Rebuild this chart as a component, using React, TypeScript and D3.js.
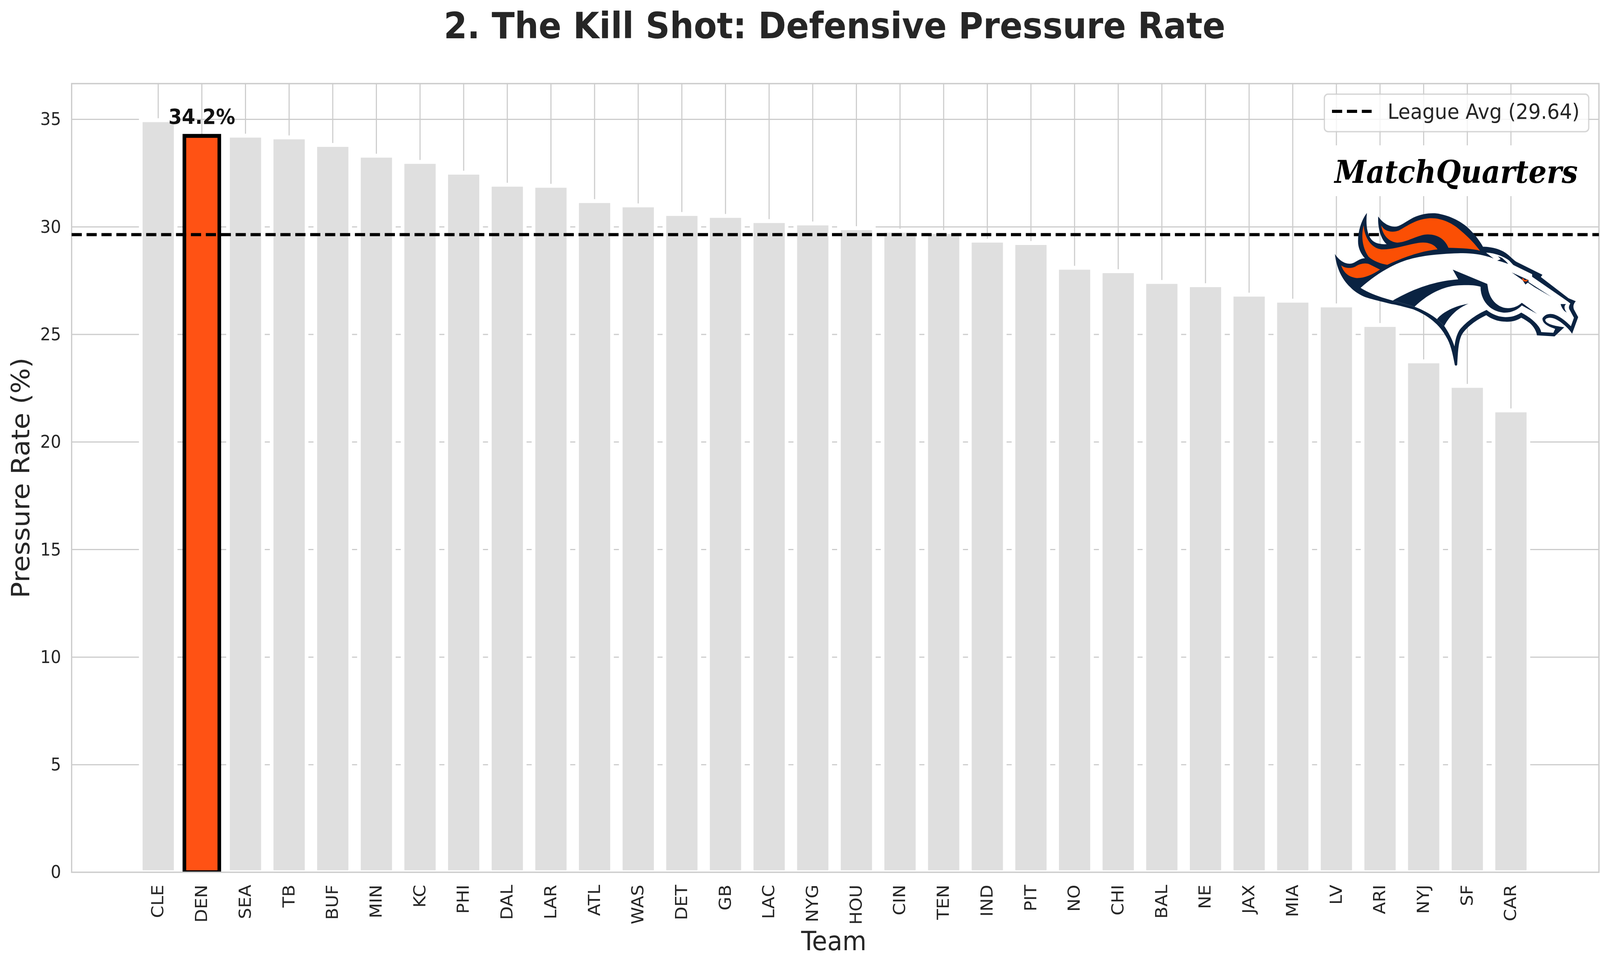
import React, { useEffect, useRef } from "react";
import * as d3 from "d3";

// Values, sorted like the source chart
const teams = ["CLE", "DEN", "SEA", "TB", "BUF", "MIN", "KC", "PHI", "DAL", "LAR", "ATL", "WAS", "DET", "GB", "LAC", "NYG", "HOU", "CIN", "TEN", "IND", "PIT", "NO", "CHI", "BAL", "NE", "JAX", "MIA", "LV", "ARI", "NYJ", "SF", "CAR"];
const pressureRate = [34.96, 34.23, 34.24, 34.16, 33.81, 33.31, 33.02, 32.52, 31.96, 31.91, 31.2, 31.0, 30.6, 30.51, 30.27, 30.16, 29.94, 29.82, 29.76, 29.36, 29.25, 28.1, 27.94, 27.44, 27.29, 26.85, 26.57, 26.35, 25.44, 23.75, 22.61, 21.47];
const yTicks = [0, 5, 10, 15, 20, 25, 30, 35];
const highlightTeam = "DEN";
const leagueAvg = 29.64;

const WIDTH = 4400;
const HEIGHT = 2475;
const FONT = "'DejaVu Sans', sans-serif";
const NAVY = "#0a2342";
const ORANGE = "#fb4f04";

// Logo outlines, traced at 3x around the logo's top left corner
const logoOutline = "M33 345 C60 385 105 420 155 420 C200 420 225 380 280 378 C240 335 222 290 224 240 C226 160 255 80 297 30 C288 110 295 190 335 235 C365 268 420 272 460 270 C415 235 385 150 390 57 C425 105 480 140 540 135 C590 125 640 80 700 58 C760 35 840 25 900 38 C990 55 1070 95 1120 135 C1180 185 1225 240 1255 290 C1300 288 1370 300 1420 325 C1470 350 1495 385 1530 405 L1745 505 L1732 522 L1960 685 L2020 708 C1995 735 2000 755 2005 770 L2040 830 L1990 958 C1960 915 1920 885 1890 865 C1855 842 1825 832 1800 835 C1775 838 1765 848 1770 858 C1780 878 1820 895 1925 908 L1845 978 L1700 970 C1695 935 1670 900 1640 875 C1615 860 1595 845 1570 835 C1530 858 1490 868 1440 865 C1390 865 1330 850 1282 815 C1200 850 1120 905 1080 965 C1050 1020 1048 1110 1042 1195 Q1035 1210 1022 1197 C1005 1110 985 1030 950 980 C900 890 800 815 680 770 C600 750 540 735 500 730 C420 710 340 695 280 675 C230 655 190 630 160 600 C90 540 45 450 33 345 Z";
const logoWhite = "M245 605 C360 510 480 440 600 400 C720 360 880 345 1050 340 C1150 335 1260 350 1342 380 L1280 335 C1350 335 1430 365 1470 395 L1505 430 L1660 500 L1660 520 L1955 710 L1975 725 C1962 745 1960 760 1970 775 L2005 835 L1980 900 C1950 870 1900 830 1850 812 C1810 798 1765 805 1745 840 C1745 870 1770 895 1850 920 L1835 950 L1735 945 C1730 920 1715 895 1660 850 C1635 830 1600 810 1570 795 C1530 820 1490 830 1440 830 C1390 830 1330 810 1285 775 C1210 805 1120 860 1060 930 C1035 970 1025 1010 1020 1055 C1000 1000 970 945 935 898 L875 845 C820 805 760 775 690 750 L510 703 C420 680 320 650 245 605 Z";
const logoArc = "M1005 465 L1050 540 C900 550 720 590 510 703 L690 750 C790 660 930 585 1077 585 C1140 582 1200 585 1235 597 C1232 680 1290 780 1420 795 C1490 800 1545 770 1575 740 L1700 805 L1575 720 C1540 750 1495 765 1440 760 C1370 750 1305 690 1295 600 L1290 575 Z";
const logoCrescent = "M875 845 C925 790 1020 745 1135 727 C1060 755 985 810 935 898 Z";
const logoWisp = "M1378 362 L1412 375 C1430 390 1450 405 1463 422 C1430 412 1400 400 1372 397 L1400 385 Z";
const logoEye = "M1492 487 L1630 545 L1632 562 L1820 675 L1680 600 L1625 565 L1605 580 L1580 545 Z";
const logoNostril = "M1895 730 L1940 730 C1920 745 1925 770 1945 795 C1925 785 1905 765 1895 730 Z";
const logoFlames = [
  "M85 433 C110 452 160 462 205 440 C240 420 285 410 320 425 L405 465 C340 505 280 530 215 530 C150 525 105 490 85 433 Z",
  "M270 125 C250 200 255 290 310 365 C350 400 410 420 465 428 C570 385 720 325 880 310 C850 265 790 250 720 260 C620 275 520 310 430 310 C350 310 280 240 270 125 Z",
  "M415 125 C440 170 500 185 560 165 C620 135 700 80 800 72 C900 62 1000 105 1070 165 C1140 220 1190 270 1230 320 C1170 305 1080 300 970 298 C940 230 880 195 800 195 C720 195 630 255 550 258 C480 255 425 200 415 125 Z",
];

export default function App() {
  const svgRef = useRef<SVGSVGElement | null>(null);

  useEffect(() => {
    if (!svgRef.current) return;
    const svg = d3.select(svgRef.current);
    svg.selectAll("*").remove();

    const margin = { top: 214, right: 4397, bottom: 2232.5, left: 197 };

    const x = d3.scaleBand<string>()
      .domain(teams)
      .range([margin.left, margin.right])
      .paddingInner(0.2)
      .paddingOuter(1.6)
      .align(0.495);

    const y = d3.scaleLinear()
      .domain([0, 36.66])
      .range([margin.bottom, margin.top]);

    svg.append("rect").attr("width", WIDTH).attr("height", HEIGHT).attr("fill", "#fff");

    svg.append("defs").append("clipPath").attr("id", "plot-clip")
      .append("rect")
      .attr("x", margin.left)
      .attr("y", margin.top)
      .attr("width", margin.right - margin.left)
      .attr("height", margin.bottom - margin.top);

    // Grid
    svg.append("g")
      .selectAll("line")
      .data(yTicks)
      .join("line")
      .attr("x1", margin.left)
      .attr("x2", margin.right)
      .attr("y1", (d) => y(d))
      .attr("y2", (d) => y(d))
      .attr("stroke", "#cccccc")
      .attr("stroke-width", 3);

    svg.append("g")
      .selectAll("line")
      .data(teams)
      .join("line")
      .attr("x1", (d) => x(d)! + x.bandwidth() / 2)
      .attr("x2", (d) => x(d)! + x.bandwidth() / 2)
      .attr("y1", margin.top)
      .attr("y2", margin.bottom)
      .attr("stroke", "#cccccc")
      .attr("stroke-width", 3);

    // Bars
    const bars = svg.append("g").attr("clip-path", "url(#plot-clip)");
    bars.selectAll("rect")
      .data(teams)
      .join("rect")
      .attr("x", (d) => x(d)!)
      .attr("width", x.bandwidth())
      .attr("y", (_, i) => y(pressureRate[i]))
      .attr("height", (_, i) => y(0) - y(pressureRate[i]))
      .attr("fill", (d) => (d === highlightTeam ? "#ff5214" : "#dfdfdf"))
      .attr("stroke", (d) => (d === highlightTeam ? "#000" : "#fff"))
      .attr("stroke-width", 10);

    // Spines
    svg.append("rect")
      .attr("x", margin.left)
      .attr("y", margin.top)
      .attr("width", margin.right - margin.left)
      .attr("height", margin.bottom - margin.top)
      .attr("fill", "none")
      .attr("stroke", "#cccccc")
      .attr("stroke-width", 3.5);

    // Average line
    svg.append("line")
      .attr("x1", margin.left)
      .attr("x2", margin.right)
      .attr("y1", y(leagueAvg))
      .attr("y2", y(leagueAvg))
      .attr("stroke", "#000")
      .attr("stroke-width", 8)
      .attr("stroke-dasharray", "28,13");

    // Axes
    svg.append("g")
      .attr("transform", `translate(${margin.left},0)`)
      .call(d3.axisLeft(y).tickValues(yTicks).tickSize(0).tickPadding(29))
      .call((g) => {
        g.select(".domain").remove();
        g.selectAll(".tick text")
          .attr("fill", "#262626")
          .style("font-family", FONT)
          .style("font-size", "45px");
      });

    svg.append("g")
      .attr("transform", `translate(0,${margin.bottom})`)
      .call(d3.axisBottom(x).tickSize(0))
      .call((g) => {
        g.select(".domain").remove();
        g.selectAll(".tick text")
          .attr("fill", "#262626")
          .style("font-family", FONT)
          .style("font-size", "45px")
          .attr("transform", "rotate(-90)")
          .attr("text-anchor", "end")
          .attr("x", -32)
          .attr("y", 0)
          .attr("dy", "0.32em");
      });

    // Titles
    svg.append("text")
      .attr("x", 2295)
      .attr("y", 98)
      .attr("text-anchor", "middle")
      .attr("fill", "#262626")
      .style("font-family", FONT)
      .style("font-weight", "bold")
      .style("font-size", "92.6px")
      .text("2. The Kill Shot: Defensive Pressure Rate");

    svg.append("text")
      .attr("x", 2293)
      .attr("y", 2432)
      .attr("text-anchor", "middle")
      .attr("fill", "#262626")
      .style("font-family", FONT)
      .style("font-size", "68px")
      .text("Team");

    svg.append("text")
      .attr("transform", "translate(81,1223) rotate(-90)")
      .attr("text-anchor", "middle")
      .attr("fill", "#262626")
      .style("font-family", FONT)
      .style("font-size", "69px")
      .text("Pressure Rate (%)");

    // Highlight label
    svg.append("text")
      .attr("x", x(highlightTeam)! + x.bandwidth() / 2)
      .attr("y", 317)
      .attr("text-anchor", "middle")
      .attr("fill", "#111")
      .style("font-family", FONT)
      .style("font-weight", "bold")
      .style("font-size", "53px")
      .text(`${pressureRate[teams.indexOf(highlightTeam)].toFixed(1)}%`);

    // Legend
    const legend = svg.append("g");
    legend.append("rect")
      .attr("x", 3642)
      .attr("y", 241)
      .attr("width", 727)
      .attr("height", 96)
      .attr("rx", 10)
      .attr("fill", "#fff")
      .attr("fill-opacity", 0.8)
      .attr("stroke", "#cccccc")
      .attr("stroke-opacity", 0.8)
      .attr("stroke-width", 3.5);
    legend.append("line")
      .attr("x1", 3663)
      .attr("x2", 3772)
      .attr("y1", 285)
      .attr("y2", 285)
      .attr("stroke", "#000")
      .attr("stroke-width", 8)
      .attr("stroke-dasharray", "28,13");
    legend.append("text")
      .attr("x", 3816)
      .attr("y", 304)
      .attr("fill", "#262626")
      .style("font-family", FONT)
      .style("font-size", "54px")
      .text(`League Avg (${leagueAvg})`);

    // Watermark
    svg.append("rect")
      .attr("x", 3665)
      .attr("y", 372)
      .attr("width", 685)
      .attr("height", 130)
      .attr("fill", "#fff");
    svg.append("text")
      .attr("x", 3670)
      .attr("y", 468)
      .attr("fill", "#000")
      .attr("textLength", 669)
      .attr("lengthAdjust", "spacingAndGlyphs")
      .style("font-family", "'DejaVu Serif', serif")
      .style("font-weight", "bold")
      .style("font-style", "italic")
      .style("font-size", "81px")
      .text("MatchQuarters");

    // Logo
    const logo = svg.append("g").attr("transform", "translate(3660,535) scale(0.33333)");
    logo.append("path").attr("d", logoOutline).attr("fill", NAVY);
    logo.append("path").attr("d", logoWhite).attr("fill", "#fff");
    [logoArc, logoCrescent, logoWisp, logoEye, logoNostril].forEach((d) => {
      logo.append("path").attr("d", d).attr("fill", NAVY);
    });
    logo.append("path")
      .attr("d", "M1582 532 Q1592 562 1622 545")
      .attr("fill", "none")
      .attr("stroke", ORANGE)
      .attr("stroke-width", 12);
    logoFlames.forEach((d) => {
      logo.append("path").attr("d", d).attr("fill", ORANGE);
    });
  }, []);

  // The browser window came out 4096 wide instead of the 4400 asked for, so the
  // 4400x2475 drawing is fitted to the window; at 4096 that squeezes x by about 7%
  return (
    <svg
      ref={svgRef}
      viewBox={`0 0 ${WIDTH} ${HEIGHT}`}
      preserveAspectRatio="none"
      style={{ position: "fixed", left: 0, top: 0, width: "100vw", height: "100vh", display: "block" }}
    />
  );
}
